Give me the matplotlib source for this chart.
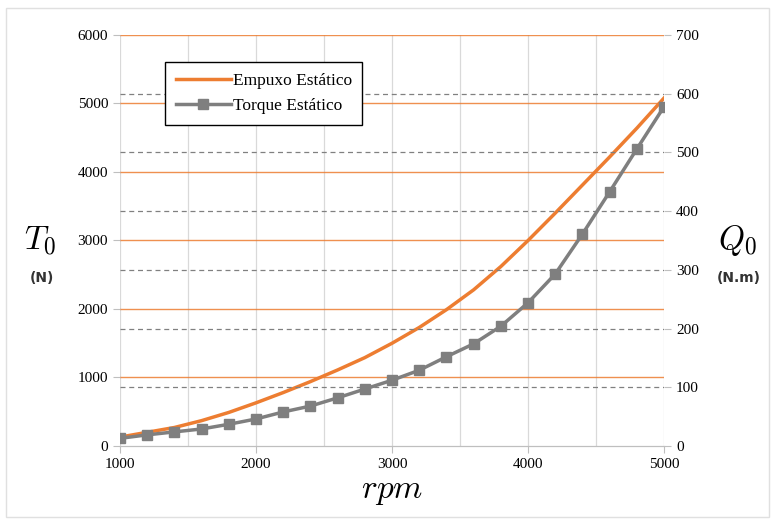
import matplotlib
matplotlib.use("Agg")
from matplotlib import pyplot
from matplotlib.patches import Rectangle

rpm = [1000, 1200, 1400, 1600, 1800, 2000, 2200, 2400, 2600, 2800, 3000,
       3200, 3400, 3600, 3800, 4000, 4200, 4400, 4600, 4800, 5000]
thrust = [130, 200, 270, 370, 490, 630, 780, 940, 1110, 1290, 1500,
          1730, 1990, 2280, 2620, 3000, 3400, 3810, 4220, 4640, 5080]
torque = [13, 19, 24, 29, 37, 46, 58, 68, 82, 97, 112,
          129, 152, 174, 204, 244, 293, 361, 433, 506, 578]

leftTicks = [0, 1000, 2000, 3000, 4000, 5000, 6000]
rightTicks = [0, 100, 200, 300, 400, 500, 600, 700]
xTicks = [1000, 2000, 3000, 4000, 5000]

orange = '#ED7D31'
grey = '#7F7F7F'
serif = 'Liberation Serif'
pyplot.rcParams['mathtext.fontset'] = 'cm'

figure = pyplot.figure(figsize=(7.74, 5.22), dpi=100)
figure.patches.append(Rectangle((0.008, 0.01), 0.985, 0.975, transform=figure.transFigure,
                                fill=False, edgecolor='#E0E0E0', linewidth=1))
axes = figure.add_axes([0.155, 0.1456, 0.703, 0.7874])
right = axes.twinx()

axes.set_xlim(1000, 5000)
axes.set_ylim(0, 6000)
right.set_ylim(0, 700)

for x in range(1000, 5001, 500):
    axes.axvline(x, color='#D9D9D9', linewidth=0.9, zorder=0)
for t in leftTicks[1:]:
    axes.axhline(t, color=orange, linewidth=1.0, zorder=1, alpha=0.85)
for t in rightTicks[1:-1]:
    right.axhline(t, color='#808080', linewidth=0.9, linestyle=(0, (4, 3)), zorder=1)

axes.plot(rpm, thrust, color=orange, linewidth=2.5, zorder=3, label='Empuxo Estático')
right.plot(rpm, torque, color=grey, linewidth=2.5, marker='s', markersize=7,
           zorder=3, label='Torque Estático')

axes.set_xticks(xTicks)
axes.set_yticks(leftTicks)
right.set_yticks(rightTicks)
for ax in (axes, right):
    for side in ('top', 'left', 'right'):
        ax.spines[side].set_visible(False)
    ax.spines['bottom'].set_color('#BFBFBF')
    ax.tick_params(colors='#BFBFBF', labelcolor='black', length=5, width=0.8)
    for label in ax.get_xticklabels() + ax.get_yticklabels():
        label.set_fontfamily(serif)
        label.set_fontsize(11)

axes.set_xlabel(r'$rpm$', fontsize=24, labelpad=2)
figure.text(0.052, 0.54, r'$T_0$', fontsize=24, ha='center', va='center')
figure.text(0.054, 0.468, '(N)', fontsize=10, fontweight='bold', ha='center',
            va='center', color='#333333')
figure.text(0.953, 0.54, r'$Q_0$', fontsize=24, ha='center', va='center')
figure.text(0.955, 0.468, '(N.m)', fontsize=10, fontweight='bold', ha='center',
            va='center', color='#333333')

handles = axes.get_legend_handles_labels()[0] + right.get_legend_handles_labels()[0]
legend = right.legend(handles, [h.get_label() for h in handles], loc='upper left',
                      bbox_to_anchor=(0.083, 0.934), borderaxespad=0, fancybox=False,
                      framealpha=1, edgecolor='black', prop={'family': serif, 'size': 12.5},
                      handlelength=3.2, handletextpad=0.1, borderpad=0.6, labelspacing=0.55)
legend.get_frame().set_linewidth(1.0)
legend.set_zorder(5)

pyplot.savefig('out.png', dpi=100)
